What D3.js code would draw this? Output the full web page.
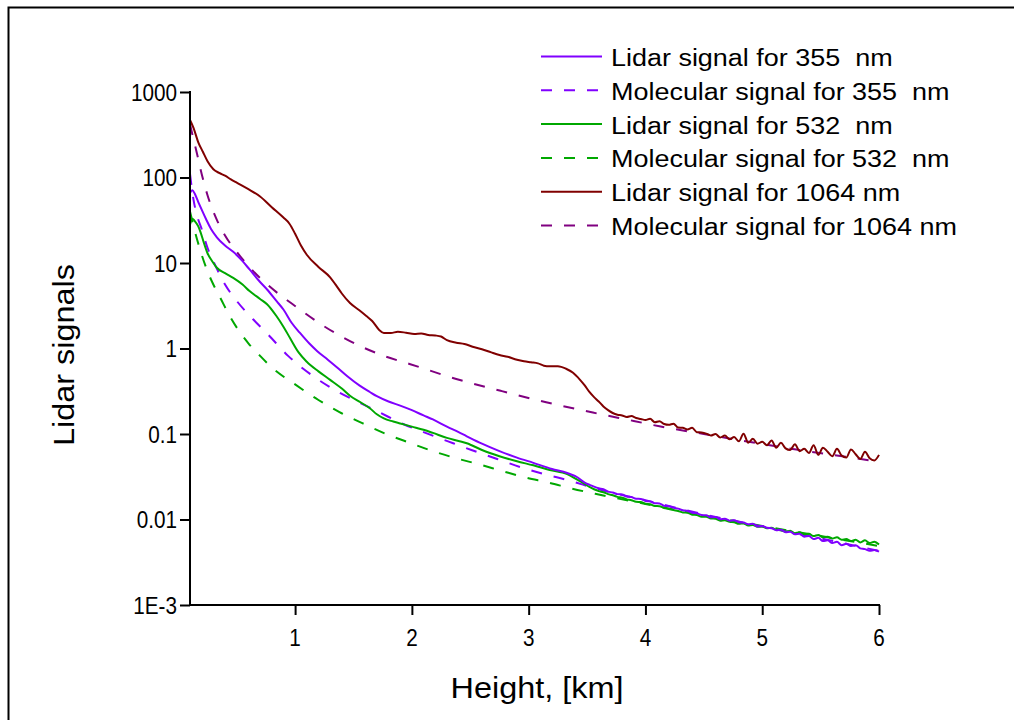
<!DOCTYPE html>
<html>
<head>
<meta charset="utf-8">
<script src="https://cdn.jsdelivr.net/npm/d3@7"></script>
<style>
  html, body { margin: 0; padding: 0; background: #fff; }
  svg { display: block; }
  text { font-family: Arial, "Liberation Sans", sans-serif; fill: #000; white-space: pre; }
</style>
</head>
<body>
<svg id="chart" width="1014" height="720"></svg>
<script>
// ---- Data -------------------------------------------------------------
// Height grid (km) shared by the noisy far-range part of the lidar signals
const tailHeights = d3.range(63).map(i => +(3.52 + 0.04 * i).toFixed(2));

// Lidar signal, 355 nm
const lidar355Heights = [0.10,0.12,0.14,0.17,0.20,0.24,0.28,0.33,0.40,0.47,0.55,0.61,0.70,0.76,0.84,0.90,0.97,1.04,1.12,1.19,1.28,1.36,1.45,1.55,1.64,1.70,1.80,1.90,2.00,2.10,2.18,2.30,2.40,2.47,2.60,2.75,2.90,3.04,3.20,3.33,3.42,3.48];
const lidar355Values  = [66,71,65,52,42,32,25,20,16,13.5,10.5,8.4,6.0,4.9,3.6,2.86,2.0,1.53,1.15,0.93,0.74,0.60,0.47,0.37,0.31,0.277,0.24,0.215,0.19,0.165,0.148,0.122,0.105,0.094,0.077,0.063,0.053,0.046,0.039,0.035,0.031,0.027];
const lidar355Tail = [0.0255,0.0242,0.0232,0.0226,0.0212,0.0207,0.0198,0.0196,0.0186,0.0183,0.0175,0.0174,0.0165,0.0163,0.0155,0.0154,0.0145,0.0143,0.0137,0.0134,0.0128,0.0126,0.0120,0.0118,0.0113,0.0112,0.0106,0.0107,0.0101,0.0102,0.0097,0.0098,0.0093,0.0092,0.0088,0.0089,0.0083,0.0084,0.0080,0.0079,0.0075,0.0076,0.0071,0.0072,0.0067,0.0068,0.0063,0.0064,0.0059,0.0061,0.0056,0.0057,0.0053,0.0055,0.0050,0.0052,0.0049,0.0050,0.0046,0.0045,0.0043,0.0044,0.0042];

// Molecular signal, 355 nm
const mol355Heights = [0.10,0.13,0.16,0.20,0.25,0.30,0.40,0.50,0.64,0.77,0.94,1.16,1.36,1.56,1.73,1.93,2.10,2.31,2.51,2.73,2.93,3.13,3.33,3.60,4.00,4.50,5.00,5.50,6.00];
const mol355Values  = [110,55,36,25,15,10.5,5.6,3.6,2.2,1.45,0.82,0.47,0.316,0.23,0.177,0.13,0.105,0.082,0.065,0.051,0.041,0.034,0.029,0.0225,0.0168,0.0115,0.0083,0.006,0.0043];

// Lidar signal, 532 nm
const lidar532Heights = [0.10,0.12,0.14,0.17,0.19,0.22,0.25,0.29,0.33,0.40,0.47,0.55,0.61,0.70,0.76,0.84,0.90,0.96,1.03,1.10,1.20,1.30,1.40,1.47,1.56,1.64,1.70,1.76,1.84,1.90,2.00,2.10,2.18,2.30,2.40,2.47,2.60,2.75,2.90,3.04,3.18,3.33,3.42,3.48];
const lidar532Values  = [28,33,31,27,23,17,13,10.5,8.8,7.6,6.7,5.6,4.7,3.8,3.3,2.4,1.8,1.3,0.9,0.7,0.54,0.43,0.34,0.28,0.235,0.2,0.17,0.152,0.14,0.133,0.122,0.112,0.103,0.09,0.083,0.078,0.065,0.055,0.048,0.043,0.038,0.034,0.029,0.026];
const lidar532Tail = [0.0240,0.0226,0.0215,0.0208,0.0198,0.0192,0.0184,0.0180,0.0172,0.0168,0.0161,0.0160,0.0153,0.0151,0.0144,0.0143,0.0136,0.0133,0.0129,0.0126,0.0121,0.0120,0.0114,0.0113,0.0108,0.0108,0.0103,0.0102,0.0097,0.0098,0.0094,0.0093,0.0089,0.0090,0.0085,0.0086,0.0082,0.0083,0.0079,0.0080,0.0076,0.0075,0.0072,0.0074,0.0069,0.0071,0.0067,0.0068,0.0064,0.0066,0.0062,0.0063,0.0060,0.0062,0.0058,0.0059,0.0056,0.0058,0.0054,0.0057,0.0053,0.0055,0.0051];

// Molecular signal, 532 nm
const mol532Heights = [0.10,0.13,0.16,0.20,0.25,0.30,0.36,0.44,0.52,0.60,0.70,0.80,1.00,1.20,1.38,1.58,1.78,1.98,2.18,2.38,2.58,2.77,2.97,3.17,3.37,3.57,4.00,4.50,5.00,5.50,6.00];
const mol532Values  = [40,27,19,12.5,8.0,5.6,3.9,2.4,1.6,1.15,0.82,0.6,0.38,0.25,0.18,0.133,0.1,0.079,0.063,0.052,0.044,0.037,0.031,0.027,0.023,0.02,0.0152,0.0112,0.0084,0.0064,0.0049];

// Lidar signal, 1064 nm
const lidar1064Heights = [0.10,0.13,0.17,0.21,0.25,0.30,0.35,0.40,0.45,0.50,0.60,0.70,0.80,0.90,0.95,1.00,1.05,1.10,1.20,1.30,1.35,1.40,1.47,1.55,1.61,1.66,1.72,1.76,1.82,1.88,1.95,2.02,2.08,2.14,2.20,2.25,2.30,2.38,2.45,2.52,2.60,2.68,2.75,2.82,2.90,2.96,3.02,3.08,3.13,3.18,3.25,3.32,3.38,3.44,3.48];
const lidar1064Values  = [470,380,260,200,155,125,113,105,95,87,73,60,45,34,29,22,16,12.5,9.0,6.8,5.5,4.4,3.4,2.8,2.4,2.1,1.65,1.52,1.52,1.57,1.53,1.48,1.5,1.44,1.42,1.38,1.25,1.17,1.13,1.05,0.98,0.9,0.84,0.8,0.74,0.71,0.69,0.67,0.63,0.62,0.62,0.58,0.52,0.43,0.37];
const lidar1064Tail = [0.31,0.27,0.24,0.21,0.19,0.176,0.168,0.165,0.158,0.162,0.154,0.150,0.146,0.151,0.137,0.141,0.131,0.128,0.132,0.119,0.118,0.113,0.118,0.105,0.104,0.101,0.096,0.100,0.091,0.096,0.087,0.092,0.082,0.101,0.079,0.088,0.077,0.081,0.074,0.084,0.069,0.079,0.068,0.065,0.076,0.063,0.067,0.060,0.074,0.057,0.069,0.062,0.055,0.067,0.056,0.053,0.066,0.058,0.051,0.062,0.052,0.049,0.057];

// Molecular signal, 1064 nm
const mol1064Heights = [0.10,0.13,0.16,0.20,0.25,0.33,0.40,0.50,0.62,0.79,1.02,1.24,1.47,1.76,1.98,2.38,2.76,3.15,3.55,3.90,4.12,4.50,4.75,5.32,5.92,6.00];
const mol1064Values  = [420,280,190,110,62,32,21,13.5,8.6,5.2,3.0,1.85,1.22,0.82,0.66,0.44,0.32,0.235,0.178,0.142,0.123,0.1,0.087,0.065,0.049,0.047];

// Axis ticks
const xTickValues = [1, 2, 3, 4, 5, 6];
const xMinorTicks = [0.5, 1.5, 2.5, 3.5, 4.5, 5.5];
const yTickValues = [1e3, 1e2, 1e1, 1, 0.1, 0.01, 1e-3];
const yTickLabels = ["1000", "100", "10", "1", "0.1", "0.01", "1E-3"];

const legendLabels = [
  "Lidar signal for 355  nm",
  "Molecular signal for 355  nm",
  "Lidar signal for 532  nm",
  "Molecular signal for 532  nm",
  "Lidar signal for 1064 nm",
  "Molecular signal for 1064 nm"
];

// ---- Series definitions -----------------------------------------------
const zip = (hs, vs) => hs.map((h, i) => [h, vs[i]]);
const series = [
  { pts: zip(lidar355Heights, lidar355Values).concat(zip(tailHeights, lidar355Tail)), color: "#8000ff", dash: null },
  { pts: zip(mol355Heights, mol355Values), color: "#8000ff", dash: "11,12" },
  { pts: zip(lidar532Heights, lidar532Values).concat(zip(tailHeights, lidar532Tail)), color: "#00a800", dash: null },
  { pts: zip(mol532Heights, mol532Values), color: "#00a800", dash: "11,12" },
  { pts: zip(lidar1064Heights, lidar1064Values).concat(zip(tailHeights, lidar1064Tail)), color: "#800000", dash: null },
  { pts: zip(mol1064Heights, mol1064Values), color: "#800080", dash: "11,12" }
];
// draw order: molecular beneath lidar traces
const drawOrder = [3, 1, 5, 2, 0, 4];

// ---- Layout ------------------------------------------------------------
const svg = d3.select("#chart");
const X0 = 190, X1 = 879, Y0 = 605, Y1 = 92;

const x = d3.scaleLinear().domain([0.1, 6]).range([X0, X1]);
const y = d3.scaleLog().domain([1e-3, 1e3]).range([Y0, Y1]);

function putText(g, str, tx, ty, size, anchor, sx, rotate) {
  return g.append("text")
    .attr("transform", `translate(${tx},${ty})` + (rotate ? ` rotate(${rotate})` : "") + ` scale(${sx},1)`)
    .attr("text-anchor", anchor)
    .style("font-size", size + "px")
    .text(str);
}

// outer frame (only the top and left edges fall inside the view)
svg.append("path")
  .attr("d", "M8.5,730 V7.5 H1030")
  .attr("fill", "none").attr("stroke", "#000").attr("stroke-width", 2);

// ---- Lines -------------------------------------------------------------
const line = d3.line()
  .x(d => x(d[0]))
  .y(d => y(d[1]))
  .curve(d3.curveMonotoneX);

const plot = svg.append("g");
drawOrder.forEach(i => {
  const s = series[i];
  plot.append("path")
    .datum(s.pts)
    .attr("d", line)
    .attr("fill", "none")
    .attr("stroke", s.color)
    .attr("stroke-width", 2)
    .attr("stroke-linejoin", "round")
    .attr("stroke-dasharray", s.dash);
});

// ---- Axes --------------------------------------------------------------
const yMinor = [];
for (let e = -3; e < 3; e++) for (let k = 2; k <= 9; k++) yMinor.push(k * Math.pow(10, e));

const yAxis = d3.axisLeft(y).tickValues(yTickValues).tickSize(10).tickFormat("");
const yAxisMinor = d3.axisLeft(y).tickValues(yMinor).tickSize(5).tickFormat("");
const gy = svg.append("g").attr("transform", `translate(${X0},0)`);
gy.call(yAxisMinor);
gy.call(yAxis);

const xAxis = d3.axisBottom(x).tickValues(xTickValues).tickSize(10).tickFormat("");
const xAxisMinor = d3.axisBottom(x).tickValues(xMinorTicks).tickSize(5).tickFormat("");
const gx = svg.append("g").attr("transform", `translate(0,${Y0})`);
gx.call(xAxisMinor);
gx.call(xAxis);

[gx, gy].forEach(g => {
  g.selectAll(".domain").attr("stroke", "#000").attr("stroke-width", 2);
  g.selectAll(".tick line").attr("stroke", "#000").attr("stroke-width", 2);
  g.selectAll(".tick text").remove();
});
gy.selectAll(".domain").attr("d", `M0,${Y0 + 1}V${Y1 - 1}`);
gx.selectAll(".domain").attr("d", `M${X0 - 1},0H${X1 + 1}`);

// tick labels
const labels = svg.append("g");
yTickValues.forEach((v, i) => putText(labels, yTickLabels[i], X0 - 13, y(v) + 8.5, 23, "end", 0.9));
xTickValues.forEach(v => putText(labels, String(v), x(v), Y0 + 41, 23, "middle", 0.9));

// axis titles
putText(labels, "Height, [km]", 537, 698, 30, "middle", 1.08);
putText(labels, "Lidar signals", 74, 355, 30, "middle", 1.08, -90);

// ---- Legend ------------------------------------------------------------
const legend = svg.append("g");
legendLabels.forEach((lab, i) => {
  const s = series[i];
  const cy = 56.5 + i * 33.8;
  legend.append("line")
    .attr("x1", 541).attr("x2", 602).attr("y1", cy).attr("y2", cy)
    .attr("stroke", s.color).attr("stroke-width", 2)
    .attr("stroke-dasharray", s.dash);
  putText(legend, lab, 611, cy + 9.5, 24.5, "start", 1.1);
});
</script>
</body>
</html>
